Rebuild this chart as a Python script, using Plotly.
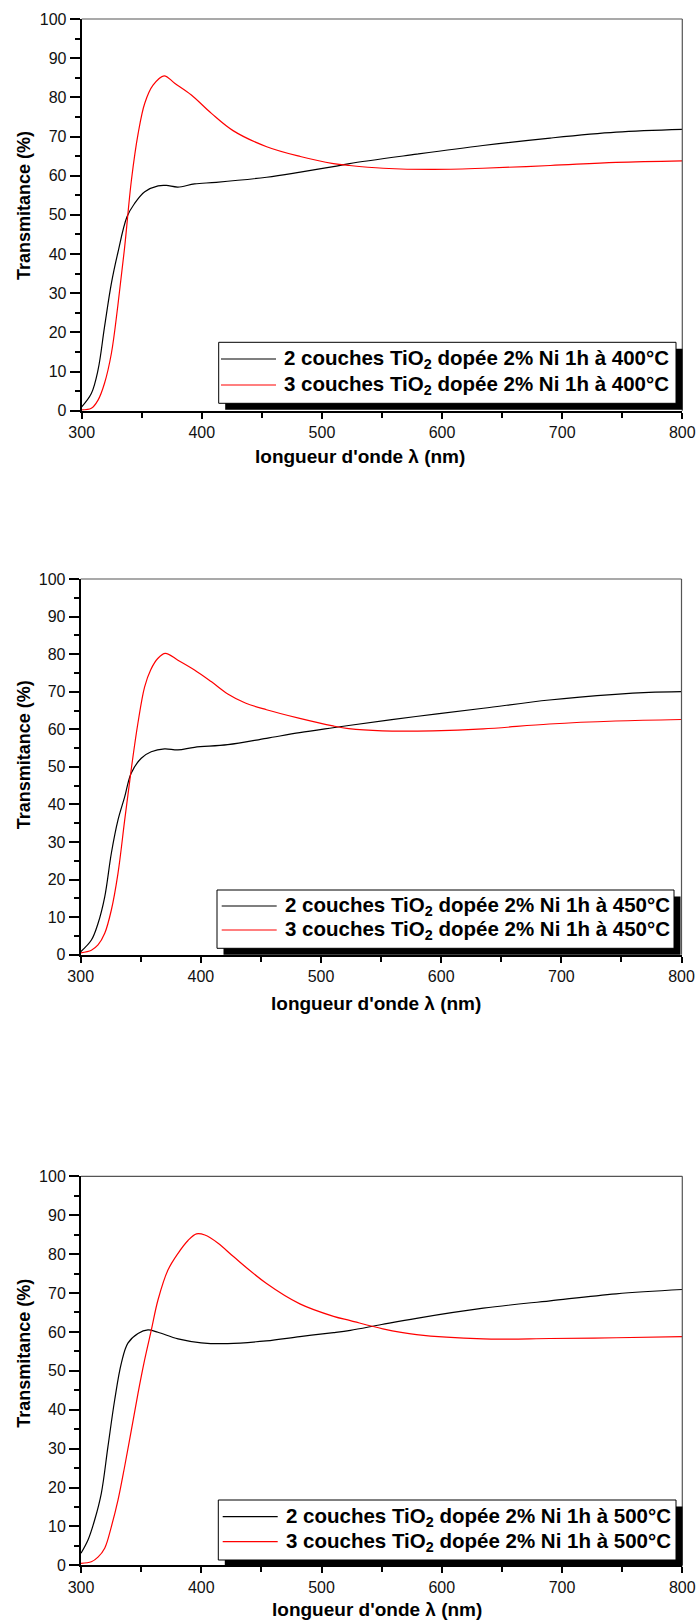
import plotly.graph_objects as go

W, H = 700, 1620

# ---- Transmittance spectra (wavelength in nm, transmittance in %) ----
# 400 °C
wl_2c_400 = [300, 308, 313.6, 319, 324.7, 330, 337.7, 344, 352.5, 363.6, 370.5, 380, 394,
             412, 454, 482, 509.5, 523, 579, 634, 690, 745, 800]
t_2c_400 = [1.0, 4.4, 10.4, 21.4, 32.5, 40.2, 49.5, 52.9, 55.9, 57.4, 57.5, 57.1, 57.9,
            58.3, 59.6, 60.9, 62.3, 63.1, 65.5, 67.7, 69.6, 71.1, 71.8]
wl_3c_400 = [300, 308, 313.6, 319, 324.7, 330, 335.8, 341.4, 347, 352.5, 359.4, 368.6, 377.4,
             391.3, 408, 426, 454, 482, 509.5, 523, 551, 593, 634, 690, 745, 800]
t_3c_400 = [0.2, 0.6, 2.7, 7.0, 14.6, 26.6, 41.9, 58.9, 70.8, 78.5, 83.1, 85.5, 83.6,
            80.6, 75.9, 71.5, 67.4, 64.9, 63.1, 62.6, 61.9, 61.6, 61.9, 62.6, 63.4, 63.8]

# 450 °C
wl_2c_450 = [300, 308.9, 314.4, 320, 325.5, 331, 336.6, 342, 350.4, 358.7, 369.8, 380.9, 394.7,
             422.4, 454.6, 482.3, 510, 523, 579, 635, 690, 745, 773, 800]
t_2c_450 = [0.8, 3.9, 8.3, 15.4, 27.0, 35.8, 42.0, 48.3, 52.3, 54.0, 54.8, 54.5, 55.2,
            55.9, 57.6, 59.1, 60.4, 61.0, 63.4, 65.6, 67.8, 69.3, 69.8, 70.0]
wl_3c_450 = [300, 308.9, 314.4, 320, 325.5, 331, 336.6, 342, 347.6, 353.2, 358.2, 364.3, 370.4,
             380.9, 394.7, 408.6, 422.4, 437, 454.6, 482.3, 510, 523, 551, 593, 635, 690, 745, 800]
t_3c_450 = [0.5, 1.2, 2.6, 5.7, 11.9, 21.6, 35.8, 49.2, 61.6, 71.3, 75.8, 78.9, 80.2,
            78.4, 75.8, 72.7, 69.4, 67.0, 65.2, 62.9, 60.9, 60.2, 59.6, 59.6, 60.1, 61.4, 62.2, 62.6]

# 500 °C
wl_2c_500 = [300, 305.8, 311.4, 316.9, 322.4, 328, 333.5, 339, 347.4, 355.7, 364, 380.7, 400,
             422, 454, 482, 510, 524, 550, 579, 634.5, 690, 745, 800]
t_2c_500 = [3.1, 6.5, 11.7, 18.5, 30.5, 42.5, 51.9, 57.1, 59.6, 60.5, 59.9, 58.2, 57.2,
            57.0, 57.7, 58.8, 59.8, 60.4, 61.9, 63.5, 66.1, 68.0, 69.8, 70.9]
wl_3c_500 = [300, 308.6, 314.1, 319.7, 325.2, 330.8, 336.3, 341.9, 347.4, 352.9, 358.5, 364,
             372.3, 380.7, 389, 396, 403, 414, 427, 454, 482, 510, 524, 551, 579, 634.5,
             690, 745, 800]
t_3c_500 = [0.5, 0.9, 2.1, 4.4, 9.9, 16.8, 25.4, 34.8, 44.2, 52.8, 60.5, 68.2,
            75.9, 80.2, 83.5, 85.2, 84.9, 82.8, 79.3, 72.5, 67.2, 64.0, 62.9, 60.8, 59.3, 58.2,
            58.3, 58.5, 58.8]

temperatures = ["400", "450", "500"]
series_2c = [(wl_2c_400, t_2c_400), (wl_2c_450, t_2c_450), (wl_2c_500, t_2c_500)]
series_3c = [(wl_3c_400, t_3c_400), (wl_3c_450, t_3c_450), (wl_3c_500, t_3c_500)]

x_ticks = [300, 400, 500, 600, 700, 800]
y_ticks = [0, 10, 20, 30, 40, 50, 60, 70, 80, 90, 100]

x_title = "longueur d'onde λ (nm)"
y_title = "Transmitance (%)"

# ---- page geometry (pixels) ----
panels = [
    dict(l=81.7, r=682.3, t=19.0, b=410.7,
         box=(218.7, 342.3, 676.0, 403.3), rows=(359.0, 385.0), sample=(221.0, 276.0), tx=281.7,
         xt=(359.5, 456.7), yt=(23.5, 205.5)),
    dict(l=80.7, r=681.5, t=579.0, b=954.7,
         box=(217.0, 890.0, 674.0, 948.3), rows=(906.0, 930.0), sample=(221.7, 276.7), tx=282.7,
         xt=(375.8, 1003.3), yt=(24.3, 755.0)),
    dict(l=81.0, r=682.3, t=1176.3, b=1565.3,
         box=(218.3, 1500.0, 676.0, 1560.0), rows=(1516.7, 1541.7), sample=(222.7, 277.7), tx=283.7,
         xt=(376.7, 1609.3), yt=(23.8, 1353.0)),
]


def fx(p):
    return p / W


def fy(p):
    return 1 - p / H


FONT = "Liberation Sans, Arial, sans-serif"

fig = go.Figure()
shapes = []
annotations = []

for i, (temp, p) in enumerate(zip(temperatures, panels)):
    n = "" if i == 0 else str(i + 1)
    xa, ya = "x" + n, "y" + n
    wl2, t2 = series_2c[i]
    wl3, t3 = series_3c[i]
    label2 = f"2 couches TiO<sub>2</sub> dopée 2% Ni 1h à {temp}°C"
    label3 = f"3 couches TiO<sub>2</sub> dopée 2% Ni 1h à {temp}°C"

    fig.add_trace(go.Scatter(x=wl2, y=t2, mode="lines", name=label2, xaxis=xa, yaxis=ya,
                             line=dict(color="#000000", width=1.2, shape="spline", smoothing=1.0),
                             showlegend=False))
    fig.add_trace(go.Scatter(x=wl3, y=t3, mode="lines", name=label3, xaxis=xa, yaxis=ya,
                             line=dict(color="#ff0000", width=1.2, shape="spline", smoothing=1.0),
                             showlegend=False))

    xkey = "xaxis" + n
    ykey = "yaxis" + n
    fig.update_layout({
        xkey: dict(domain=[fx(p["l"]), fx(p["r"])], anchor=ya, range=[300, 800], automargin=False,
                   tickvals=x_ticks, ticktext=[str(v) for v in x_ticks],
                   ticks="outside", ticklen=6, tickwidth=1.5, tickcolor="#000",
                   minor=dict(dtick=50, tick0=300, ticks="outside", ticklen=5, tickwidth=1.5,
                              tickcolor="#000"),
                   showline=True, linecolor="#000", linewidth=2, showgrid=False, zeroline=False,
                   tickfont=dict(family=FONT, size=16, color="#111"), fixedrange=True),
        ykey: dict(domain=[fy(p["b"]), fy(p["t"])], anchor=xa, range=[0, 100], automargin=False,
                   tickvals=y_ticks, ticktext=[str(v) for v in y_ticks],
                   ticks="outside", ticklen=10, tickwidth=1.5, tickcolor="#000",
                   minor=dict(dtick=5, tick0=0, ticks="outside", ticklen=5, tickwidth=1.5,
                              tickcolor="#000"),
                   showline=True, linecolor="#000", linewidth=2, showgrid=False, zeroline=False,
                   tickfont=dict(family=FONT, size=16, color="#111"), fixedrange=True),
    })

    # top and right frame lines
    shapes.append(dict(type="line", xref=xa + " domain", yref=ya + " domain", x0=0, x1=1, y0=1, y1=1,
                       line=dict(color="#555", width=1.2)))
    shapes.append(dict(type="line", xref=xa + " domain", yref=ya + " domain", x0=1, x1=1, y0=0, y1=1,
                       line=dict(color="#555", width=1.2)))

    # legend box with drop shadow
    bl, bt, br, bb = p["box"]
    sh = 6.5
    shapes.append(dict(type="rect", xref="paper", yref="paper",
                       x0=fx(bl + sh), x1=fx(br + sh), y0=fy(bb + sh), y1=fy(bt + sh),
                       fillcolor="#000", line=dict(width=0)))
    shapes.append(dict(type="rect", xref="paper", yref="paper",
                       x0=fx(bl), x1=fx(br), y0=fy(bb), y1=fy(bt),
                       fillcolor="#fff", line=dict(color="#000", width=1)))
    for ry, col, lab in zip(p["rows"], ["#000000", "#ff0000"], [label2, label3]):
        shapes.append(dict(type="line", xref="paper", yref="paper",
                           x0=fx(p["sample"][0]), x1=fx(p["sample"][1]), y0=fy(ry), y1=fy(ry),
                           line=dict(color=col, width=1.2)))
        annotations.append(dict(text=lab, xref="paper", yref="paper", x=fx(p["tx"]), y=fy(ry),
                                xanchor="left", yanchor="middle", showarrow=False,
                                font=dict(family=FONT, size=20.5, color="#000", weight="bold")))

    # axis titles
    annotations.append(dict(text=x_title, xref="paper", yref="paper",
                            x=fx(p["xt"][0]), y=fy(p["xt"][1]), xanchor="center", yanchor="middle",
                            showarrow=False,
                            font=dict(family=FONT, size=19, color="#000", weight="bold")))
    annotations.append(dict(text=y_title, xref="paper", yref="paper", textangle=-90,
                            x=fx(p["yt"][0]), y=fy(p["yt"][1]), xanchor="center", yanchor="middle",
                            showarrow=False,
                            font=dict(family=FONT, size=18, color="#000", weight="bold")))

fig.update_layout(
    width=W, height=H,
    margin=dict(l=0, r=0, t=0, b=0),
    paper_bgcolor="#fff", plot_bgcolor="#fff",
    showlegend=False,
    shapes=shapes,
    annotations=annotations,
)

fig.write_html("out.html", config={"displayModeBar": False})
